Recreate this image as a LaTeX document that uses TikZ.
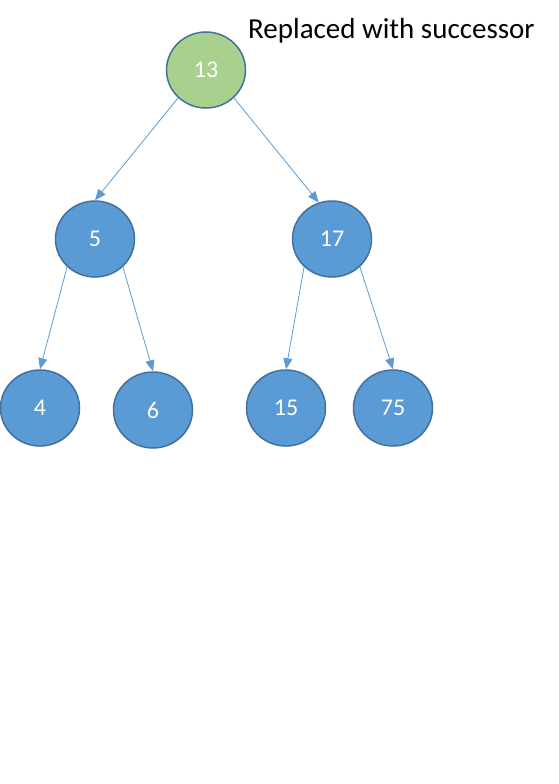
\documentclass[tikz,border=0pt]{standalone}
\usepackage{fontspec}
\setmainfont{Carlito}
\usetikzlibrary{shapes.geometric,arrows.meta}
\definecolor{nodeblue}{HTML}{5B9BD5}
\definecolor{nodegreen}{HTML}{A9D18E}
\definecolor{nodeedge}{HTML}{41719C}
\tikzset{
  treenode/.style={ellipse,draw=nodeedge,line width=1.5pt,fill=nodeblue,minimum width=79pt,minimum height=76pt,inner sep=0pt,text=white,font=\fontsize{24}{26}\selectfont},
  rootnode/.style={treenode,fill=nodegreen},
  link/.style={draw=nodeblue,line width=0.8pt,-{Triangle[length=11pt,width=9pt]}}
}
\begin{document}
\begin{tikzpicture}[x=1pt,y=-1pt]
\useasboundingbox (0,0) rectangle (558,784);
\node[rootnode] (n13) at (206,70) {13};
\node[treenode] (n5) at (95,239) {5};
\node[treenode] (n17) at (332,239) {17};
\node[treenode] (n4) at (40,408) {4};
\node[treenode] (n6) at (153,410) {6};
\node[treenode] (n15) at (286,408) {15};
\node[treenode] (n75) at (393,408) {75};
\node[anchor=base west,inner sep=0pt,font=\fontsize{29}{33}\selectfont] (title) at (248,38) {Replaced with successor};
\draw[link] (n13.225) -- (n5.north);
\draw[link] (n13.315) -- (n17.110);
\draw[link] (n5.225) -- (n4.north);
\draw[link] (n5.315) -- (n6.north);
\draw[link] (n17.225) -- (n15.north);
\draw[link] (n17.315) -- (n75.north);
\end{tikzpicture}
\end{document}
